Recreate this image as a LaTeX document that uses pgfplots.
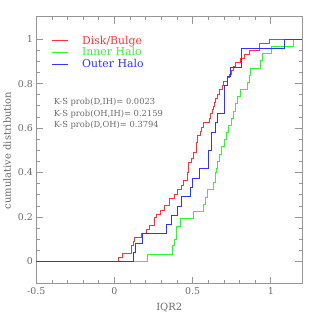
\documentclass[border=0pt]{standalone}
\usepackage{fontspec}
\setmainfont{DejaVu Serif}
\usepackage{pgfplots}
\pgfplotsset{compat=1.18}
\definecolor{cred}{RGB}{255,50,50}
\definecolor{cgreen}{RGB}{50,245,50}
\definecolor{cblue}{RGB}{50,50,255}
\definecolor{fgray}{RGB}{150,150,150}
\definecolor{tgray}{RGB}{105,105,105}
\begin{document}
\begin{tikzpicture}
\begin{axis}[
  scale only axis, width=267bp, height=268bp,
  xmin=-0.5, xmax=1.2, ymin=-0.1, ymax=1.1,
  xtick={-0.5,0,0.5,1}, ytick={0,0.2,0.4,0.6,0.8,1},
  minor x tick num=4, minor y tick num=3,
  tick align=inside, xtick pos=both, ytick pos=both,
  major tick length=7bp, minor tick length=3.5bp,
  axis line style={fgray, line width=1pt},
  every tick/.style={fgray, line width=0.8pt},
  /pgf/number format/assume math mode=true,
  tick label style={tgray, font=\fontsize{9.5}{11}\selectfont},
  label style={tgray, font=\fontsize{10}{12}\selectfont},
  xlabel={IQR2}, ylabel={cumulative distribution},
  xlabel style={yshift=-2bp},
  legend style={draw=none, fill=none, at={(rel axis cs:0.045,0.945)}, anchor=north west,
    font=\fontsize{11}{12}\selectfont, row sep=-2pt,
    /tikz/every odd column/.append style={column sep=12bp}},
  legend cell align=left,
]
\addplot[cred, line width=0.7pt, const plot, forget plot] table {
-0.5 0
0.026 0.018
0.048 0.036
0.111 0.071
0.118 0.090
0.128 0.108
0.175 0.126
0.207 0.146
0.224 0.161
0.256 0.198
0.266 0.214
0.294 0.229
0.319 0.251
0.351 0.286
0.383 0.304
0.400 0.323
0.426 0.341
0.443 0.364
0.464 0.402
0.472 0.447
0.489 0.462
0.506 0.492
0.521 0.537
0.532 0.567
0.547 0.585
0.555 0.605
0.566 0.627
0.606 0.645
0.612 0.665
0.625 0.683
0.632 0.700
0.638 0.718
0.648 0.736
0.660 0.754
0.672 0.772
0.691 0.790
0.698 0.808
0.720 0.826
0.734 0.843
0.749 0.861
0.760 0.879
0.770 0.897
0.808 0.915
0.829 0.932
0.861 0.950
0.925 0.982
0.989 1.000
1.2 1.000
};
\addplot[cgreen, line width=0.7pt, const plot, forget plot] table {
-0.5 0
0.209 0.031
0.372 0.071
0.383 0.101
0.396 0.160
0.421 0.194
0.502 0.227
0.570 0.259
0.580 0.290
0.591 0.326
0.634 0.357
0.644 0.400
0.650 0.420
0.655 0.452
0.670 0.484
0.685 0.516
0.700 0.548
0.715 0.580
0.730 0.613
0.745 0.645
0.760 0.677
0.776 0.710
0.787 0.742
0.808 0.774
0.850 0.806
0.862 0.838
0.870 0.870
0.930 0.903
0.946 0.935
1.005 0.968
1.145 1.000
1.2 1.000
};
\addplot[cblue, line width=0.7pt, const plot, forget plot] table {
-0.5 0
0.123 0.042
0.136 0.083
0.181 0.125
0.334 0.167
0.362 0.208
0.400 0.250
0.426 0.292
0.485 0.333
0.500 0.375
0.543 0.417
0.598 0.458
0.602 0.500
0.617 0.542
0.621 0.583
0.645 0.625
0.659 0.667
0.700 0.708
0.702 0.750
0.705 0.792
0.720 0.833
0.744 0.875
0.813 0.958
1.085 1.000
1.2 1.000
};
\addlegendimage{legend image code/.code={\draw[cred, line width=0.8pt] (0bp,0bp) -- (16bp,0bp);}}
\addlegendentry{\textcolor{cred}{Disk/Bulge}}
\addlegendimage{legend image code/.code={\draw[cgreen, line width=0.8pt] (0bp,0bp) -- (16bp,0bp);}}
\addlegendentry{\textcolor{cgreen}{Inner Halo}}
\addlegendimage{legend image code/.code={\draw[cblue, line width=0.8pt] (0bp,0bp) -- (16bp,0bp);}}
\addlegendentry{\textcolor{cblue}{Outer Halo}}
\node[anchor=west, text=tgray, font=\fontsize{8.4}{10}\selectfont] at (axis cs:-0.41,0.715) {K-S prob(D,IH)= 0.0023};
\node[anchor=west, text=tgray, font=\fontsize{8.4}{10}\selectfont] at (axis cs:-0.41,0.662) {K-S prob(OH,IH)= 0.2159};
\node[anchor=west, text=tgray, font=\fontsize{8.4}{10}\selectfont] at (axis cs:-0.41,0.612) {K-S prob(D,OH)= 0.3794};
\end{axis}
\path ([xshift=-34.7bp, yshift=-34bp]current axis.south west) rectangle ([xshift=17bp,yshift=17bp]current axis.north east);
\end{tikzpicture}
\end{document}
